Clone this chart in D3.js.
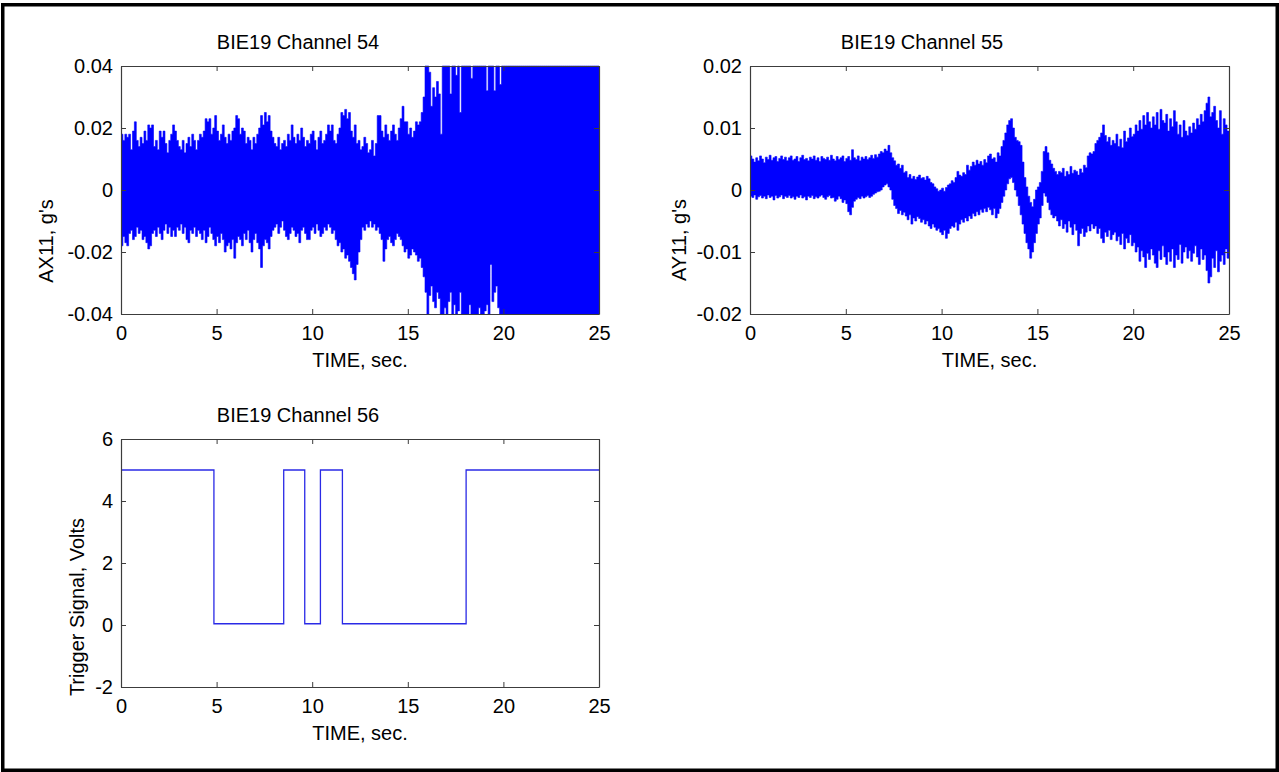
<!DOCTYPE html>
<html>
<head>
<meta charset="utf-8">
<script src="https://cdn.jsdelivr.net/npm/d3@7"></script>
<style>
  html, body { margin: 0; padding: 0; background: #fff; }
  svg { display: block; font-family: "Liberation Sans", Arial, Helvetica, sans-serif; }
</style>
</head>
<body>
<svg id="fig" width="1279" height="772"></svg>
<script>
// ---- Data -------------------------------------------------------------
// Accelerometer records are stored as per-bin extremes (max / min, g's),
// one bin every 0.1 s from 0 to 25 s.
const binWidth = 0.1;

const timeTicks = [0, 5, 10, 15, 20, 25];
const ax11Ticks = [-0.04, -0.02, 0, 0.02, 0.04];
const ay11Ticks = [-0.02, -0.01, 0, 0.01, 0.02];
const triggerTicks = [-2, 0, 2, 4, 6];

const ax11Max = [
  0.018,0.016,0.018,0.017,0.018,0.013,0.019,0.022,0.016,0.014,
  0.017,0.015,0.019,0.016,0.021,0.020,0.021,0.014,0.016,0.013,
  0.019,0.017,0.019,0.015,0.012,0.016,0.018,0.021,0.019,0.016,
  0.014,0.013,0.016,0.012,0.015,0.017,0.014,0.018,0.016,0.013,
  0.016,0.018,0.017,0.019,0.023,0.022,0.023,0.018,0.020,0.024,
  0.019,0.016,0.018,0.021,0.017,0.015,0.018,0.016,0.019,0.020,
  0.024,0.023,0.018,0.020,0.019,0.015,0.017,0.016,0.013,0.017,
  0.015,0.018,0.020,0.024,0.021,0.025,0.022,0.024,0.019,0.017,
  0.015,0.014,0.017,0.013,0.015,0.016,0.014,0.018,0.016,0.021,
  0.017,0.015,0.018,0.016,0.020,0.017,0.014,0.016,0.015,0.018,
  0.019,0.016,0.013,0.017,0.019,0.015,0.016,0.018,0.021,0.019,
  0.021,0.016,0.015,0.018,0.020,0.025,0.024,0.026,0.023,0.025,
  0.019,0.017,0.021,0.015,0.016,0.013,0.014,0.017,0.015,0.012,
  0.013,0.016,0.011,0.015,0.024,0.024,0.019,0.017,0.021,0.018,
  0.016,0.019,0.021,0.018,0.016,0.020,0.023,0.027,0.022,0.022,
  0.018,0.020,0.017,0.019,0.022,0.021,0.022,0.025,0.030,0.040,
  0.040,0.038,0.027,0.033,0.030,0.035,0.031,0.018,0.040,0.040,
  0.040,0.040,0.031,0.040,0.040,0.037,0.040,0.025,0.040,0.040,
  0.040,0.040,0.040,0.036,0.040,0.040,0.040,0.040,0.040,0.040,
  0.040,0.032,0.040,0.040,0.040,0.032,0.040,0.040,0.034,0.040,
  0.040,0.040,0.040,0.040,0.040,0.040,0.040,0.040,0.040,0.040,
  0.040,0.040,0.040,0.040,0.040,0.040,0.040,0.040,0.040,0.040,
  0.040,0.040,0.040,0.040,0.040,0.040,0.040,0.040,0.040,0.040,
  0.040,0.040,0.040,0.040,0.040,0.040,0.040,0.040,0.040,0.040,
  0.040,0.040,0.040,0.040,0.040,0.040,0.040,0.040,0.040,0.040
];

const ax11Min = [
  -0.018,-0.015,-0.017,-0.018,-0.014,-0.013,-0.016,-0.015,-0.012,-0.014,
  -0.013,-0.016,-0.015,-0.017,-0.019,-0.018,-0.014,-0.013,-0.015,-0.012,
  -0.014,-0.016,-0.013,-0.011,-0.014,-0.012,-0.015,-0.013,-0.015,-0.012,
  -0.013,-0.011,-0.014,-0.012,-0.016,-0.017,-0.013,-0.014,-0.012,-0.015,
  -0.013,-0.014,-0.016,-0.013,-0.017,-0.015,-0.012,-0.014,-0.016,-0.018,
  -0.015,-0.017,-0.014,-0.016,-0.020,-0.018,-0.017,-0.019,-0.016,-0.022,
  -0.017,-0.015,-0.016,-0.018,-0.014,-0.016,-0.013,-0.017,-0.020,-0.016,
  -0.014,-0.017,-0.019,-0.025,-0.018,-0.016,-0.017,-0.019,-0.015,-0.013,
  -0.012,-0.011,-0.014,-0.012,-0.010,-0.013,-0.015,-0.016,-0.014,-0.012,
  -0.013,-0.015,-0.014,-0.017,-0.013,-0.012,-0.014,-0.016,-0.016,-0.013,
  -0.012,-0.014,-0.011,-0.013,-0.015,-0.014,-0.012,-0.013,-0.011,-0.012,
  -0.014,-0.013,-0.016,-0.018,-0.017,-0.020,-0.019,-0.022,-0.021,-0.023,
  -0.025,-0.027,-0.029,-0.024,-0.020,-0.016,-0.012,-0.013,-0.011,-0.012,
  -0.010,-0.012,-0.011,-0.013,-0.012,-0.014,-0.016,-0.023,-0.019,-0.016,
  -0.015,-0.017,-0.018,-0.016,-0.014,-0.015,-0.016,-0.018,-0.020,-0.019,
  -0.022,-0.021,-0.019,-0.020,-0.021,-0.023,-0.022,-0.025,-0.028,-0.033,
  -0.040,-0.034,-0.031,-0.036,-0.038,-0.033,-0.035,-0.040,-0.040,-0.038,
  -0.040,-0.036,-0.033,-0.040,-0.037,-0.040,-0.039,-0.033,-0.040,-0.040,
  -0.040,-0.040,-0.037,-0.040,-0.040,-0.040,-0.040,-0.038,-0.040,-0.040,
  -0.039,-0.037,-0.040,-0.024,-0.036,-0.033,-0.031,-0.038,-0.040,-0.040,
  -0.040,-0.040,-0.040,-0.040,-0.040,-0.040,-0.040,-0.040,-0.040,-0.040,
  -0.040,-0.040,-0.040,-0.040,-0.040,-0.040,-0.040,-0.040,-0.040,-0.040,
  -0.040,-0.040,-0.040,-0.040,-0.040,-0.040,-0.040,-0.040,-0.040,-0.040,
  -0.040,-0.040,-0.040,-0.040,-0.040,-0.040,-0.040,-0.040,-0.040,-0.040,
  -0.040,-0.040,-0.040,-0.040,-0.040,-0.040,-0.040,-0.040,-0.040,-0.040
];

const ay11Max = [
  0.0055,0.0050,0.0045,0.0052,0.0047,0.0055,0.0050,0.0044,0.0053,0.0049,
  0.0056,0.0048,0.0052,0.0054,0.0046,0.0051,0.0055,0.0049,0.0053,0.0047,
  0.0052,0.0055,0.0048,0.0050,0.0054,0.0046,0.0052,0.0056,0.0049,0.0051,
  0.0047,0.0053,0.0050,0.0055,0.0048,0.0052,0.0046,0.0054,0.0051,0.0049,
  0.0053,0.0048,0.0056,0.0050,0.0047,0.0054,0.0049,0.0052,0.0055,0.0046,
  0.0051,0.0054,0.0048,0.0065,0.0052,0.0049,0.0055,0.0047,0.0053,0.0050,
  0.0054,0.0049,0.0052,0.0056,0.0051,0.0057,0.0053,0.0058,0.0062,0.0060,
  0.0066,0.0063,0.0072,0.0060,0.0052,0.0047,0.0040,0.0042,0.0035,0.0040,
  0.0028,0.0030,0.0020,0.0025,0.0018,0.0022,0.0017,0.0021,0.0024,0.0019,
  0.0020,0.0016,0.0022,0.0018,0.0012,0.0010,0.0005,0.0002,-0.0002,0.0000,
  0.0003,-0.0002,0.0004,0.0008,0.0010,0.0015,0.0012,0.0020,0.0030,0.0024,
  0.0022,0.0028,0.0025,0.0040,0.0032,0.0038,0.0045,0.0040,0.0048,0.0042,
  0.0046,0.0040,0.0049,0.0044,0.0055,0.0058,0.0050,0.0052,0.0045,0.0060,
  0.0055,0.0070,0.0080,0.0092,0.0105,0.0112,0.0115,0.0100,0.0085,0.0080,
  0.0078,0.0072,0.0045,0.0020,0.0005,-0.0010,-0.0020,-0.0027,-0.0015,0.0000,
  0.0005,0.0012,0.0030,0.0062,0.0070,0.0060,0.0048,0.0042,0.0035,0.0030,
  0.0025,0.0030,0.0028,0.0035,0.0022,0.0030,0.0025,0.0038,0.0027,0.0032,
  0.0030,0.0024,0.0034,0.0028,0.0040,0.0036,0.0055,0.0060,0.0058,0.0062,
  0.0075,0.0080,0.0085,0.0092,0.0105,0.0088,0.0078,0.0085,0.0072,0.0080,
  0.0075,0.0090,0.0070,0.0082,0.0068,0.0095,0.0078,0.0084,0.0100,0.0086,
  0.0090,0.0105,0.0095,0.0112,0.0098,0.0120,0.0105,0.0125,0.0110,0.0100,
  0.0118,0.0105,0.0125,0.0098,0.0130,0.0112,0.0108,0.0122,0.0095,0.0115,
  0.0102,0.0128,0.0110,0.0090,0.0105,0.0085,0.0112,0.0095,0.0088,0.0102,
  0.0092,0.0108,0.0098,0.0115,0.0105,0.0122,0.0110,0.0128,0.0140,0.0150,
  0.0118,0.0125,0.0135,0.0112,0.0100,0.0128,0.0090,0.0115,0.0105,0.0095
];

const ay11Min = [
  -0.0010,-0.0012,-0.0008,-0.0015,-0.0011,-0.0009,-0.0013,-0.0010,-0.0014,-0.0008,
  -0.0012,-0.0010,-0.0016,-0.0009,-0.0013,-0.0011,-0.0008,-0.0014,-0.0010,-0.0012,
  -0.0009,-0.0013,-0.0011,-0.0015,-0.0010,-0.0012,-0.0008,-0.0013,-0.0011,-0.0016,
  -0.0010,-0.0012,-0.0009,-0.0014,-0.0011,-0.0013,-0.0010,-0.0008,-0.0012,-0.0015,
  -0.0011,-0.0009,-0.0013,-0.0012,-0.0018,-0.0015,-0.0010,-0.0014,-0.0020,-0.0016,
  -0.0022,-0.0035,-0.0040,-0.0028,-0.0018,-0.0015,-0.0012,-0.0014,-0.0010,-0.0013,
  -0.0011,-0.0009,-0.0012,-0.0010,-0.0007,-0.0005,-0.0003,-0.0002,0.0000,0.0005,
  0.0008,0.0010,0.0005,0.0000,-0.0015,-0.0025,-0.0030,-0.0038,-0.0033,-0.0040,
  -0.0036,-0.0042,-0.0048,-0.0040,-0.0055,-0.0045,-0.0050,-0.0043,-0.0046,-0.0052,
  -0.0048,-0.0055,-0.0050,-0.0058,-0.0062,-0.0055,-0.0060,-0.0065,-0.0062,-0.0068,
  -0.0072,-0.0065,-0.0078,-0.0070,-0.0062,-0.0058,-0.0060,-0.0052,-0.0065,-0.0055,
  -0.0048,-0.0052,-0.0045,-0.0050,-0.0042,-0.0046,-0.0038,-0.0042,-0.0035,-0.0040,
  -0.0032,-0.0036,-0.0030,-0.0035,-0.0028,-0.0032,-0.0040,-0.0030,-0.0045,-0.0038,
  -0.0030,-0.0020,-0.0010,0.0000,0.0010,0.0018,0.0020,0.0012,0.0000,-0.0010,
  -0.0025,-0.0040,-0.0055,-0.0070,-0.0085,-0.0095,-0.0110,-0.0100,-0.0085,-0.0070,
  -0.0055,-0.0045,-0.0025,-0.0005,-0.0010,-0.0020,-0.0032,-0.0040,-0.0045,-0.0042,
  -0.0050,-0.0058,-0.0048,-0.0062,-0.0055,-0.0068,-0.0050,-0.0060,-0.0072,-0.0055,
  -0.0065,-0.0090,-0.0070,-0.0062,-0.0075,-0.0068,-0.0058,-0.0066,-0.0055,-0.0062,
  -0.0058,-0.0070,-0.0062,-0.0078,-0.0085,-0.0068,-0.0075,-0.0065,-0.0080,-0.0072,
  -0.0068,-0.0082,-0.0075,-0.0088,-0.0070,-0.0095,-0.0078,-0.0085,-0.0072,-0.0090,
  -0.0085,-0.0100,-0.0092,-0.0115,-0.0098,-0.0108,-0.0125,-0.0102,-0.0112,-0.0095,
  -0.0105,-0.0118,-0.0125,-0.0098,-0.0112,-0.0090,-0.0108,-0.0120,-0.0100,-0.0115,
  -0.0095,-0.0125,-0.0105,-0.0112,-0.0088,-0.0118,-0.0100,-0.0092,-0.0110,-0.0098,
  -0.0115,-0.0102,-0.0090,-0.0108,-0.0120,-0.0095,-0.0112,-0.0105,-0.0130,-0.0150,
  -0.0140,-0.0110,-0.0125,-0.0098,-0.0132,-0.0115,-0.0105,-0.0120,-0.0095,-0.0110
];

// Trigger channel: level changes (s) and the level held from each change on (V)
const triggerTime  = [0, 4.86, 8.51, 9.61, 10.43, 11.58, 18.05, 25];
const triggerVolts = [5, 0.04, 5, 0.04, 5, 0.04, 5, 5];

// ---- Figure -----------------------------------------------------------
const svg = d3.select("#fig");
const FONT = 20;
const AXIS_COLOR = "#3c3c3c";

// page frame
svg.append("rect")
  .attr("x", 2.75).attr("y", 4.75)
  .attr("width", 1274.5).attr("height", 765.5)
  .attr("fill", "none").attr("stroke", "#000").attr("stroke-width", 3.5);

// min/max bins -> rows {t, lo, hi}; the final row closes the last bin at its end time
function binRows(maxs, mins) {
  const rows = maxs.map((v, i) => ({ t: i * binWidth, lo: mins[i], hi: v }));
  const last = rows[rows.length - 1];
  rows.push({ t: last.t + binWidth, lo: last.lo, hi: last.hi });
  return rows;
}

const panels = [
  {
    id: "ch54", left: 121, top: 66, width: 478, height: 248,
    yDomain: [-0.04, 0.04], yTicks: ax11Ticks,
    title: "BIE19 Channel 54", titleX: 298, titleY: 49,
    ylabel: "AX11, g's", ylabelX: 53, ylabelY: 241,
    bins: binRows(ax11Max, ax11Min)
  },
  {
    id: "ch55", left: 750, top: 66, width: 479, height: 248,
    yDomain: [-0.02, 0.02], yTicks: ay11Ticks,
    title: "BIE19 Channel 55", titleX: 922, titleY: 49,
    ylabel: "AY11, g's", ylabelX: 686, ylabelY: 240,
    bins: binRows(ay11Max, ay11Min)
  },
  {
    id: "ch56", left: 121, top: 439, width: 478, height: 248,
    yDomain: [-2, 6], yTicks: triggerTicks,
    title: "BIE19 Channel 56", titleX: 298, titleY: 422,
    ylabel: "Trigger Signal, Volts", ylabelX: 84, ylabelY: 607,
    steps: triggerTime.map((t, i) => [t, triggerVolts[i]])
  }
];

panels.forEach(p => {
  const x = d3.scaleLinear().domain([0, 25]).range([p.left, p.left + p.width]);
  const y = d3.scaleLinear().domain(p.yDomain).range([p.top + p.height, p.top]);
  const g = svg.append("g").attr("class", "panel " + p.id);

  g.append("clipPath").attr("id", "clip-" + p.id)
    .append("rect")
    .attr("x", p.left).attr("y", p.top - 1)
    .attr("width", p.width).attr("height", p.height + 2);

  if (p.bins) {
    // dense record: each bin filled from its minimum to its maximum
    const band = d3.area().curve(d3.curveStepAfter)
      .x(d => x(d.t)).y0(d => y(d.lo)).y1(d => y(d.hi));
    g.append("path")
      .datum(p.bins)
      .attr("clip-path", `url(#clip-${p.id})`)
      .attr("d", band)
      .attr("fill", "#0000ff")
      .attr("stroke", "#0000ff")
      .attr("stroke-width", 0.6);
  } else {
    const line = d3.line().curve(d3.curveStepAfter).x(d => x(d[0])).y(d => y(d[1]));
    g.append("path")
      .datum(p.steps)
      .attr("clip-path", `url(#clip-${p.id})`)
      .attr("d", line)
      .attr("fill", "none")
      .attr("stroke", "#2a2ae6")
      .attr("stroke-width", 1.3);
  }

  // axes: inward ticks on all four sides
  const fmtY = d => (d === 0 ? "0" : String(d));
  const bottom = g.append("g").attr("transform", `translate(0,${p.top + p.height})`)
    .call(d3.axisBottom(x).tickValues(timeTicks).tickSizeInner(-5).tickSizeOuter(0).tickPadding(12));
  const top = g.append("g").attr("transform", `translate(0,${p.top})`)
    .call(d3.axisTop(x).tickValues(timeTicks).tickSizeInner(-5).tickSizeOuter(0).tickFormat(""));
  const left = g.append("g").attr("transform", `translate(${p.left},0)`)
    .call(d3.axisLeft(y).tickValues(p.yTicks).tickSizeInner(-5).tickSizeOuter(0).tickPadding(8).tickFormat(fmtY));
  const right = g.append("g").attr("transform", `translate(${p.left + p.width},0)`)
    .call(d3.axisRight(y).tickValues(p.yTicks).tickSizeInner(-5).tickSizeOuter(0).tickFormat(""));

  [bottom, top, left, right].forEach(a => {
    a.attr("font-family", null).attr("font-size", FONT);
    a.selectAll("path.domain").attr("stroke", AXIS_COLOR).attr("stroke-width", 1.2);
    a.selectAll(".tick line").attr("stroke", AXIS_COLOR).attr("stroke-width", 1);
    a.selectAll(".tick text").attr("fill", "#000");
  });

  // title
  g.append("text")
    .attr("x", p.titleX).attr("y", p.titleY)
    .attr("text-anchor", "middle")
    .attr("font-size", FONT)
    .text(p.title);

  // x label
  g.append("text")
    .attr("x", p.left + p.width / 2).attr("y", p.top + p.height + 53)
    .attr("text-anchor", "middle")
    .attr("font-size", FONT)
    .text("TIME, sec.");

  // y label
  g.append("text")
    .attr("transform", `translate(${p.ylabelX},${p.ylabelY}) rotate(-90)`)
    .attr("text-anchor", "middle")
    .attr("font-size", FONT)
    .text(p.ylabel);
});
</script>
</body>
</html>
